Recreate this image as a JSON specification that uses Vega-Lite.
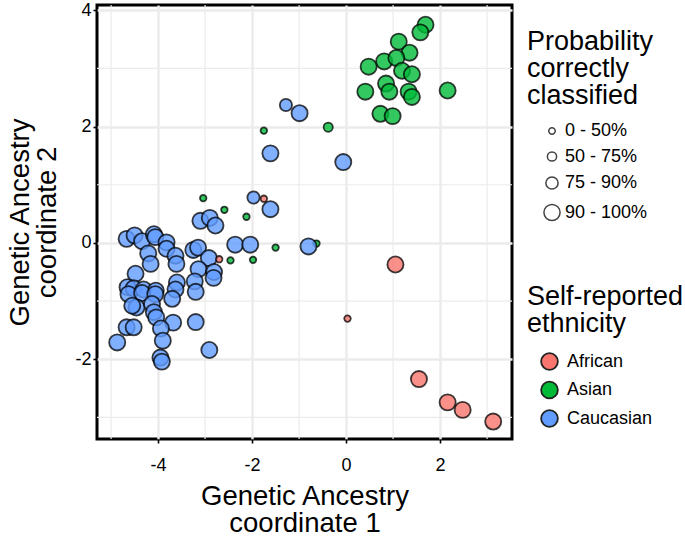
{
  "$schema": "https://vega.github.io/schema/vega-lite/v6.json",
  "width": 415,
  "height": 434,
  "autosize": "none",
  "padding": {"left": 97, "top": 5, "right": 173, "bottom": 104},
  "background": "white",
  "config": {
    "font": "Liberation Sans",
    "view": {"stroke": "black", "strokeWidth": 3},
    "axis": {
      "domain": false,
      "gridColor": "#ebebeb",
      "gridWidth": 2.4,
      "tickColor": "black",
      "tickWidth": 1.6,
      "tickSize": 4,
      "labelColor": "black",
      "labelFontSize": 18,
      "labelFont": "Liberation Sans",
      "titleFont": "Liberation Sans",
      "titleFontSize": 27.5,
      "titleFontWeight": "normal",
      "titleColor": "black",
      "titleLineHeight": 27
    },
    "legend": {
      "titleFont": "Liberation Sans",
      "labelFont": "Liberation Sans",
      "titleFontSize": 27,
      "titleFontWeight": "normal",
      "titleColor": "black",
      "titleLineHeight": 27,
      "labelFontSize": 18,
      "labelColor": "black",
      "padding": 0
    }
  },
  "datasets": {
    "minorx": [{"x": -5}, {"x": -3}, {"x": -1}, {"x": 1}, {"x": 3}],
    "minory": [{"y": 3}, {"y": 1}, {"y": -1}, {"y": -3}],
    "pts": [
      {"x": -0.63, "y": -0.01, "eth": "Asian", "prob": "0 - 50%"},
      {"x": -1.28, "y": 2.37, "eth": "Caucasian", "prob": "75 - 90%"},
      {"x": -0.99, "y": 2.23, "eth": "Caucasian", "prob": "90 - 100%"},
      {"x": -1.61, "y": 1.54, "eth": "Caucasian", "prob": "90 - 100%"},
      {"x": -0.06, "y": 1.39, "eth": "Caucasian", "prob": "90 - 100%"},
      {"x": -1.97, "y": 0.78, "eth": "Caucasian", "prob": "75 - 90%"},
      {"x": -1.61, "y": 0.58, "eth": "Caucasian", "prob": "90 - 100%"},
      {"x": -3.10, "y": 0.38, "eth": "Caucasian", "prob": "90 - 100%"},
      {"x": -2.90, "y": 0.43, "eth": "Caucasian", "prob": "90 - 100%"},
      {"x": -2.78, "y": 0.30, "eth": "Caucasian", "prob": "90 - 100%"},
      {"x": -2.36, "y": -0.03, "eth": "Caucasian", "prob": "90 - 100%"},
      {"x": -2.04, "y": -0.03, "eth": "Caucasian", "prob": "90 - 100%"},
      {"x": -0.80, "y": -0.06, "eth": "Caucasian", "prob": "90 - 100%"},
      {"x": -4.67, "y": 0.07, "eth": "Caucasian", "prob": "90 - 100%"},
      {"x": -4.50, "y": 0.13, "eth": "Caucasian", "prob": "90 - 100%"},
      {"x": -4.34, "y": 0.03, "eth": "Caucasian", "prob": "90 - 100%"},
      {"x": -4.09, "y": 0.15, "eth": "Caucasian", "prob": "90 - 100%"},
      {"x": -4.06, "y": 0.10, "eth": "Caucasian", "prob": "90 - 100%"},
      {"x": -3.82, "y": 0.01, "eth": "Caucasian", "prob": "90 - 100%"},
      {"x": -3.82, "y": -0.10, "eth": "Caucasian", "prob": "90 - 100%"},
      {"x": -4.21, "y": -0.18, "eth": "Caucasian", "prob": "90 - 100%"},
      {"x": -4.16, "y": -0.36, "eth": "Caucasian", "prob": "90 - 100%"},
      {"x": -3.63, "y": -0.22, "eth": "Caucasian", "prob": "90 - 100%"},
      {"x": -3.61, "y": -0.36, "eth": "Caucasian", "prob": "90 - 100%"},
      {"x": -3.25, "y": -0.12, "eth": "Caucasian", "prob": "90 - 100%"},
      {"x": -3.15, "y": -0.08, "eth": "Caucasian", "prob": "90 - 100%"},
      {"x": -2.92, "y": -0.26, "eth": "Caucasian", "prob": "90 - 100%"},
      {"x": -3.14, "y": -0.45, "eth": "Caucasian", "prob": "90 - 100%"},
      {"x": -2.81, "y": -0.50, "eth": "Caucasian", "prob": "90 - 100%"},
      {"x": -2.82, "y": -0.60, "eth": "Caucasian", "prob": "90 - 100%"},
      {"x": -4.48, "y": -0.53, "eth": "Caucasian", "prob": "90 - 100%"},
      {"x": -3.60, "y": -0.68, "eth": "Caucasian", "prob": "90 - 100%"},
      {"x": -3.22, "y": -0.66, "eth": "Caucasian", "prob": "90 - 100%"},
      {"x": -4.65, "y": -0.76, "eth": "Caucasian", "prob": "90 - 100%"},
      {"x": -4.52, "y": -0.78, "eth": "Caucasian", "prob": "90 - 100%"},
      {"x": -4.31, "y": -0.80, "eth": "Caucasian", "prob": "90 - 100%"},
      {"x": -4.05, "y": -0.82, "eth": "Caucasian", "prob": "90 - 100%"},
      {"x": -3.63, "y": -0.80, "eth": "Caucasian", "prob": "90 - 100%"},
      {"x": -3.20, "y": -0.84, "eth": "Caucasian", "prob": "90 - 100%"},
      {"x": -4.63, "y": -0.88, "eth": "Caucasian", "prob": "90 - 100%"},
      {"x": -4.34, "y": -0.86, "eth": "Caucasian", "prob": "90 - 100%"},
      {"x": -4.06, "y": -0.88, "eth": "Caucasian", "prob": "90 - 100%"},
      {"x": -3.70, "y": -0.96, "eth": "Caucasian", "prob": "90 - 100%"},
      {"x": -4.46, "y": -1.11, "eth": "Caucasian", "prob": "90 - 100%"},
      {"x": -4.55, "y": -1.08, "eth": "Caucasian", "prob": "90 - 100%"},
      {"x": -4.13, "y": -1.05, "eth": "Caucasian", "prob": "90 - 100%"},
      {"x": -4.09, "y": -1.19, "eth": "Caucasian", "prob": "90 - 100%"},
      {"x": -4.04, "y": -1.28, "eth": "Caucasian", "prob": "90 - 100%"},
      {"x": -3.68, "y": -1.37, "eth": "Caucasian", "prob": "90 - 100%"},
      {"x": -3.20, "y": -1.36, "eth": "Caucasian", "prob": "90 - 100%"},
      {"x": -4.67, "y": -1.45, "eth": "Caucasian", "prob": "90 - 100%"},
      {"x": -4.52, "y": -1.45, "eth": "Caucasian", "prob": "90 - 100%"},
      {"x": -3.94, "y": -1.47, "eth": "Caucasian", "prob": "90 - 100%"},
      {"x": -4.87, "y": -1.71, "eth": "Caucasian", "prob": "90 - 100%"},
      {"x": -3.90, "y": -1.68, "eth": "Caucasian", "prob": "90 - 100%"},
      {"x": -2.91, "y": -1.84, "eth": "Caucasian", "prob": "90 - 100%"},
      {"x": -3.95, "y": -1.97, "eth": "Caucasian", "prob": "90 - 100%"},
      {"x": -3.92, "y": -2.04, "eth": "Caucasian", "prob": "90 - 100%"},
      {"x": 1.69, "y": 3.75, "eth": "Asian", "prob": "90 - 100%"},
      {"x": 1.58, "y": 3.62, "eth": "Asian", "prob": "90 - 100%"},
      {"x": 1.12, "y": 3.46, "eth": "Asian", "prob": "90 - 100%"},
      {"x": 1.35, "y": 3.27, "eth": "Asian", "prob": "90 - 100%"},
      {"x": 0.48, "y": 3.03, "eth": "Asian", "prob": "90 - 100%"},
      {"x": 0.81, "y": 3.12, "eth": "Asian", "prob": "90 - 100%"},
      {"x": 1.07, "y": 3.18, "eth": "Asian", "prob": "90 - 100%"},
      {"x": 1.19, "y": 2.96, "eth": "Asian", "prob": "90 - 100%"},
      {"x": 1.40, "y": 2.90, "eth": "Asian", "prob": "90 - 100%"},
      {"x": 0.85, "y": 2.74, "eth": "Asian", "prob": "90 - 100%"},
      {"x": 0.92, "y": 2.60, "eth": "Asian", "prob": "90 - 100%"},
      {"x": 0.41, "y": 2.60, "eth": "Asian", "prob": "90 - 100%"},
      {"x": 1.33, "y": 2.60, "eth": "Asian", "prob": "90 - 100%"},
      {"x": 1.40, "y": 2.51, "eth": "Asian", "prob": "90 - 100%"},
      {"x": 2.16, "y": 2.62, "eth": "Asian", "prob": "90 - 100%"},
      {"x": 0.73, "y": 2.22, "eth": "Asian", "prob": "90 - 100%"},
      {"x": 0.99, "y": 2.18, "eth": "Asian", "prob": "90 - 100%"},
      {"x": -1.75, "y": 1.93, "eth": "Asian", "prob": "0 - 50%"},
      {"x": -0.38, "y": 1.99, "eth": "Asian", "prob": "50 - 75%"},
      {"x": -3.04, "y": 0.77, "eth": "Asian", "prob": "0 - 50%"},
      {"x": -2.59, "y": 0.57, "eth": "Asian", "prob": "0 - 50%"},
      {"x": -2.12, "y": 0.45, "eth": "Asian", "prob": "0 - 50%"},
      {"x": -1.50, "y": -0.08, "eth": "Asian", "prob": "0 - 50%"},
      {"x": -2.46, "y": -0.30, "eth": "Asian", "prob": "0 - 50%"},
      {"x": -1.98, "y": -0.29, "eth": "Asian", "prob": "0 - 50%"},
      {"x": -1.75, "y": 0.76, "eth": "African", "prob": "0 - 50%"},
      {"x": -2.70, "y": -0.28, "eth": "African", "prob": "0 - 50%"},
      {"x": 0.03, "y": -1.30, "eth": "African", "prob": "0 - 50%"},
      {"x": 1.05, "y": -0.37, "eth": "African", "prob": "90 - 100%"},
      {"x": 1.55, "y": -2.34, "eth": "African", "prob": "90 - 100%"},
      {"x": 2.16, "y": -2.74, "eth": "African", "prob": "90 - 100%"},
      {"x": 2.48, "y": -2.87, "eth": "African", "prob": "90 - 100%"},
      {"x": 3.13, "y": -3.07, "eth": "African", "prob": "90 - 100%"}
    ]
  },
  "layer": [
    {
      "data": {"name": "minorx"},
      "mark": {"type": "rule", "color": "#ebebeb", "strokeWidth": 1.2},
      "encoding": {
        "x": {"field": "x", "type": "quantitative", "scale": {"domain": [-5.30, 3.53], "nice": false, "zero": false}, "title": ["Genetic Ancestry", "coordinate 1"], "axis": {"values": [-4, -2, 0, 2], "titlePadding": 8, "labelPadding": 13, "labelExpr": "'' + datum.value"}}
      }
    },
    {
      "data": {"name": "minory"},
      "mark": {"type": "rule", "color": "#ebebeb", "strokeWidth": 1.2},
      "encoding": {
        "y": {"field": "y", "type": "quantitative", "scale": {"domain": [-3.37, 4.09], "nice": false, "zero": false}, "title": ["Genetic Ancestry", "coordinate 2"], "axis": {"values": [-2, 0, 2, 4], "titlePadding": 13, "labelExpr": "'' + datum.value"}}
      }
    },
    {
      "data": {"name": "pts"},
      "mark": {"type": "point", "filled": true, "fillOpacity": 0.8, "stroke": "black", "strokeOpacity": 0.75, "strokeWidth": 1.8},
      "encoding": {
        "x": {"field": "x", "type": "quantitative", "scale": {"domain": [-5.30, 3.53], "nice": false, "zero": false}, "title": ["Genetic Ancestry", "coordinate 1"], "axis": {"values": [-4, -2, 0, 2], "titlePadding": 8, "labelPadding": 13, "labelExpr": "'' + datum.value"}},
        "y": {"field": "y", "type": "quantitative", "scale": {"domain": [-3.37, 4.09], "nice": false, "zero": false}, "title": ["Genetic Ancestry", "coordinate 2"], "axis": {"values": [-2, 0, 2, 4], "titlePadding": 13, "labelExpr": "'' + datum.value"}},
        "color": {"field": "eth", "type": "nominal", "scale": {"domain": ["African", "Asian", "Caucasian"], "range": ["#F8766D", "#00BA38", "#619CFF"]},
          "legend": {"title": ["Self-reported", "ethnicity"], "orient": "none", "legendX": 430, "legendY": 279, "symbolSize": 280, "symbolStrokeColor": "#222", "symbolStrokeWidth": 1.8, "symbolOffset": 13, "labelOffset": 8, "rowPadding": 3.5, "titlePadding": 14}},
        "size": {"field": "prob", "type": "ordinal", "scale": {"type": "ordinal", "domain": ["0 - 50%", "50 - 75%", "75 - 90%", "90 - 100%"], "range": [42, 85, 150, 260]},
          "legend": {"title": ["Probability", "correctly", "classified"], "orient": "none", "legendX": 430, "legendY": 24, "symbolFillColor": "white", "symbolStrokeColor": "#444", "symbolStrokeWidth": 1.5, "symbolOffset": 16, "labelOffset": 4, "rowPadding": 7.5, "titlePadding": 12,
            "labelExpr": "datum.index == 0 ? '\u2002' + datum.label : datum.label"}}
      }
    }
  ]
}
